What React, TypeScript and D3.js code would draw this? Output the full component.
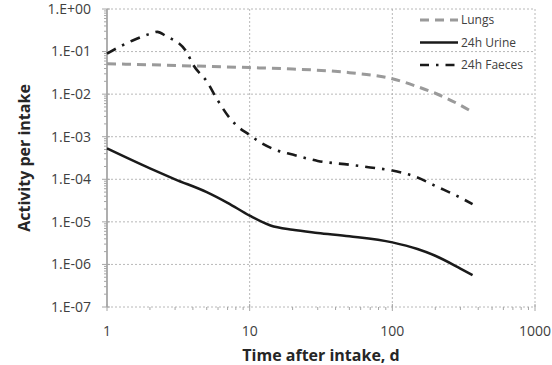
import React, { useEffect, useRef } from 'react';
import * as d3 from 'd3';

// time after intake (d)
const lungsT = [1, 2, 5, 10, 20, 50, 100, 150, 200, 300, 365];
const lungsV = [0.052, 0.049, 0.045, 0.042, 0.039, 0.032, 0.023, 0.015, 0.0105, 0.0055, 0.0038];

const urineT = [1, 2, 3, 5, 7, 10, 14, 20, 30, 50, 100, 150, 200, 300, 365];
const urineV = [5.3e-4, 1.8e-4, 1.0e-4, 5.0e-5, 2.8e-5, 1.4e-5, 8.2e-6, 6.5e-6, 5.5e-6, 4.6e-6, 3.3e-6, 2.3e-6, 1.6e-6, 8.0e-7, 5.6e-7];

const faecesT = [1, 1.5, 2, 2.25, 2.6, 3.6, 4, 5, 6, 7, 8, 10, 12, 15, 20, 30, 50, 70, 100, 150, 200, 300, 365];
const faecesV = [0.09, 0.18, 0.26, 0.29, 0.23, 0.1, 0.05, 0.02, 0.007, 0.0032, 0.0019, 1.1e-3, 7.2e-4, 5.0e-4, 3.8e-4, 2.7e-4, 2.2e-4, 1.9e-4, 1.6e-4, 1.1e-4, 7.0e-5, 3.7e-5, 2.6e-5];

const yTicks = [1, 0.1, 0.01, 0.001, 1e-4, 1e-5, 1e-6, 1e-7];
const yTickLabels = ['1.E+00', '1.E-01', '1.E-02', '1.E-03', '1.E-04', '1.E-05', '1.E-06', '1.E-07'];
const xTicks = [1, 10, 100, 1000];
const xTickLabels = ['1', '10', '100', '1000'];

const seriesNames = ['Lungs', '24h Urine', '24h Faeces'];

const W = 552;
const H = 365;
const font = '"Open Sans", sans-serif';

const App = () => {
  const svgRef = useRef<SVGSVGElement>(null);

  useEffect(() => {
    const svg = d3.select(svgRef.current);
    svg.selectAll('*').remove();

    const left = 107, right = 535, top = 9, bottom = 307;
    const x = d3.scaleLog().domain([1, 1000]).range([left, right]);
    const y = d3.scaleLog().domain([1e-7, 1]).range([bottom, top]);

    const grid = '#a6a6a6';

    // gridlines
    svg.append('g')
      .selectAll('line')
      .data(yTicks)
      .join('line')
      .attr('x1', left)
      .attr('x2', right)
      .attr('y1', (d) => y(d))
      .attr('y2', (d) => y(d))
      .attr('stroke', grid)
      .attr('stroke-width', 0.8)
      .attr('stroke-dasharray', '2,2');

    svg.append('g')
      .selectAll('line')
      .data(xTicks.slice(1))
      .join('line')
      .attr('x1', (d) => x(d))
      .attr('x2', (d) => x(d))
      .attr('y1', top)
      .attr('y2', bottom)
      .attr('stroke', grid)
      .attr('stroke-width', 0.8)
      .attr('stroke-dasharray', '2,2');

    // minor ticks
    const xMinor: number[] = [];
    const yMinor: number[] = [];
    for (let e = 0; e < 3; e++) for (let k = 2; k < 10; k++) xMinor.push(k * 10 ** e);
    for (let e = -7; e < 0; e++) for (let k = 2; k < 10; k++) yMinor.push(k * 10 ** e);

    svg.append('g')
      .selectAll('line')
      .data(xMinor)
      .join('line')
      .attr('x1', (d) => x(d))
      .attr('x2', (d) => x(d))
      .attr('y1', bottom)
      .attr('y2', bottom + 3)
      .attr('stroke', grid)
      .attr('stroke-width', 1);

    svg.append('g')
      .selectAll('line')
      .data(xTicks)
      .join('line')
      .attr('x1', (d) => x(d))
      .attr('x2', (d) => x(d))
      .attr('y1', bottom - 3)
      .attr('y2', bottom + 4)
      .attr('stroke', grid)
      .attr('stroke-width', 1);

    svg.append('g')
      .selectAll('line')
      .data(yMinor)
      .join('line')
      .attr('x1', left - 3)
      .attr('x2', left)
      .attr('y1', (d) => y(d))
      .attr('y2', (d) => y(d))
      .attr('stroke', grid)
      .attr('stroke-width', 1);

    svg.append('g')
      .selectAll('line')
      .data(yTicks)
      .join('line')
      .attr('x1', left - 5)
      .attr('x2', left + 3)
      .attr('y1', (d) => y(d))
      .attr('y2', (d) => y(d))
      .attr('stroke', grid)
      .attr('stroke-width', 1);

    // y axis line
    svg.append('line')
      .attr('x1', left)
      .attr('x2', left)
      .attr('y1', top)
      .attr('y2', bottom)
      .attr('stroke', grid)
      .attr('stroke-width', 1.8);

    // tick labels
    svg.append('g')
      .selectAll('text')
      .data(yTicks)
      .join('text')
      .attr('x', 91)
      .attr('y', (d) => y(d))
      .attr('dy', '0.35em')
      .attr('text-anchor', 'end')
      .attr('font-family', font)
      .attr('font-size', 14)
      .attr('fill', '#404040')
      .text((d, i) => yTickLabels[i]);

    svg.append('g')
      .selectAll('text')
      .data(xTicks)
      .join('text')
      .attr('x', (d) => x(d))
      .attr('y', 336)
      .attr('text-anchor', 'middle')
      .attr('font-family', font)
      .attr('font-size', 14)
      .attr('fill', '#404040')
      .text((d, i) => xTickLabels[i]);

    // axis titles
    svg.append('text')
      .attr('x', (left + right) / 2)
      .attr('y', 361)
      .attr('text-anchor', 'middle')
      .attr('font-family', font)
      .attr('font-weight', 'bold')
      .attr('font-size', 16)
      .attr('fill', '#262626')
      .text('Time after intake, d');

    svg.append('text')
      .attr('transform', `translate(30,${(top + bottom) / 2}) rotate(-90)`)
      .attr('text-anchor', 'middle')
      .attr('font-family', font)
      .attr('font-weight', 'bold')
      .attr('font-size', 16)
      .attr('fill', '#262626')
      .text('Activity per intake');

    // series
    const line = d3
      .line<[number, number]>()
      .x((d) => x(d[0]))
      .y((d) => y(d[1]))
      .curve(d3.curveMonotoneX);

    const styles = [
      { color: '#9a9a9a', width: 3, dash: '9,6' },
      { color: '#1a1a1a', width: 2.5, dash: null },
      { color: '#1a1a1a', width: 2.6, dash: '10,7,2.5,7' },
    ];
    const series: [number, number][][] = [
      lungsT.map((t, i) => [t, lungsV[i]]),
      urineT.map((t, i) => [t, urineV[i]]),
      faecesT.map((t, i) => [t, faecesV[i]]),
    ];

    series.forEach((s, i) => {
      svg.append('path')
        .attr('d', line(s))
        .attr('fill', 'none')
        .attr('stroke', styles[i].color)
        .attr('stroke-width', styles[i].width)
        .attr('stroke-dasharray', styles[i].dash);
    });

    // legend
    const leg = svg.append('g');
    seriesNames.forEach((name, i) => {
      const ly = 20 + i * 22.5;
      leg.append('line')
        .attr('x1', 420)
        .attr('x2', 458)
        .attr('y1', ly)
        .attr('y2', ly)
        .attr('stroke', styles[i].color)
        .attr('stroke-width', styles[i].width)
        .attr('stroke-dasharray', i === 2 ? '9,7,2.5,7' : styles[i].dash);
      leg.append('text')
        .attr('x', 461)
        .attr('y', ly)
        .attr('dy', '0.35em')
        .attr('font-family', font)
        .attr('font-size', 12)
        .attr('fill', '#404040')
        .text(name);
    });
  }, []);

  return (
    <svg
      ref={svgRef}
      width={W}
      height={H}
      style={{ position: 'absolute', left: 0, top: 0, background: '#fff' }}
    />
  );
};

export default App;
